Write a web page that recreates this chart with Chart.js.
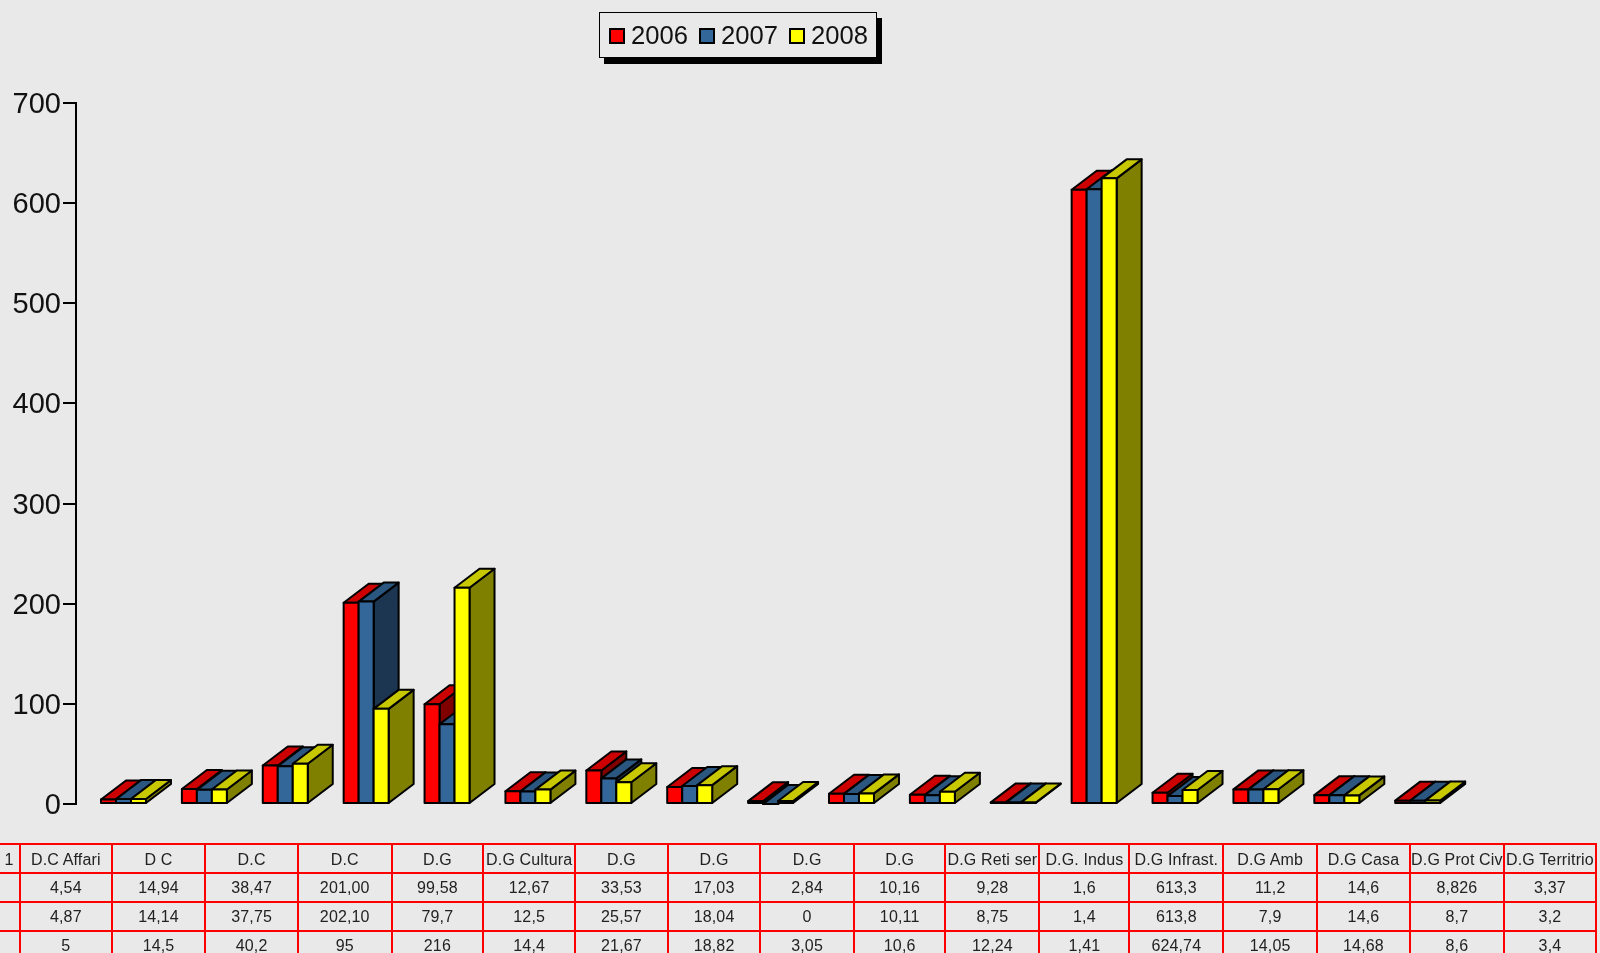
<!DOCTYPE html>
<html>
<head>
<meta charset="utf-8">
<title>Chart</title>
<script src="https://cdn.jsdelivr.net/npm/chart.js@4"></script>
<style>
html,body{margin:0;padding:0;width:1600px;height:953px;overflow:hidden;background:#e9e9e9;font-family:"Liberation Sans",Arial,sans-serif;}
#chart{position:absolute;left:0;top:0;}
#legend{position:absolute;left:599px;top:12px;width:276px;height:44px;border:1.5px solid #000;box-shadow:5px 6px 0 #000;background:#e9e9e9;font-size:25.6px;color:#111;}
#legend span{position:absolute;top:6px;line-height:32px;}
#legend i{position:absolute;top:15px;width:12px;height:12px;border:2px solid #000;}
#data-table{position:absolute;left:-3px;top:843px;border-collapse:collapse;table-layout:fixed;font-size:16px;letter-spacing:.15px;color:#222;}
#data-table td{border:2px solid #f00;height:27px;padding:0;text-align:center;white-space:nowrap;overflow:hidden;}
#data-table tr:first-child td{padding-top:2px;height:25px;}
</style>
</head>
<body>
<canvas id="chart" width="1600" height="953"></canvas>
<div id="legend"></div>
<table id="data-table"></table>
<script>
// Data
const categories=["D.C Affari","D C","D.C","D.C","D.G","D.G Cultura","D.G","D.G","D.G","D.G","D.G Reti ser","D.G. Indus","D.G Infrast.","D.G Amb","D.G Casa","D.G Prot Civ","D.G Territrio"];
const years=["2006","2007","2008"];
const values2006=["4,54","14,94","38,47","201,00","99,58","12,67","33,53","17,03","2,84","10,16","9,28","1,6","613,3","11,2","14,6","8,826","3,37"];
const values2007=["4,87","14,14","37,75","202,10","79,7","12,5","25,57","18,04","0","10,11","8,75","1,4","613,8","7,9","14,6","8,7","3,2"];
const values2008=["5","14,5","40,2","95","216","14,4","21,67","18,82","3,05","10,6","12,24","1,41","624,74","14,05","14,68","8,6","3,4"];
const tickValues=[0,100,200,300,400,500,600,700];

const frontColors=["#ff0000","#336699","#ffff00"];
const topColors=["#cc0000","#2a5680","#c8c800"];
const sideColors=["#800000","#1c3550","#808000"];
const allValues=[values2006,values2007,values2008];
const colWidths=[22,92,94,93,94,92,92,93,93,94,92,94,90,94,94,93,94,92];

const num=s=>parseFloat(s.replace(",","."));

// 3D faces on top of the flat bars, left to right so the later bar covers the earlier side
const DX=25, DY=19;
const bars3d={
  id:"bars3d",
  afterDatasetsDraw(chart){
    const ctx=chart.ctx;
    const metas=chart.data.datasets.map((d,i)=>chart.getDatasetMeta(i));
    ctx.save();
    ctx.strokeStyle="#000";
    ctx.lineWidth=2;
    ctx.lineJoin="round";
    const poly=(pts,fill)=>{
      ctx.beginPath();
      pts.forEach((p,i)=>i?ctx.lineTo(p[0],p[1]):ctx.moveTo(p[0],p[1]));
      ctx.closePath();
      ctx.fillStyle=fill;
      ctx.fill();
      ctx.stroke();
    };
    categories.forEach((c,i)=>{
      metas.forEach((m,k)=>{
        const b=m.data[i], l=b.x-b.width/2, r=b.x+b.width/2;
        poly([[r,b.y],[r+DX,b.y-DY],[r+DX,b.base-DY],[r,b.base]],sideColors[k]);
        poly([[l,b.y],[l+DX,b.y-DY],[r+DX,b.y-DY],[r,b.y]],topColors[k]);
        poly([[l,b.y],[r,b.y],[r,b.base],[l,b.base]],frontColors[k]);
      });
    });
    ctx.restore();
  }
};

new Chart(document.getElementById("chart"),{
  type:"bar",
  data:{
    datasets:years.map((y,k)=>({
      label:y,
      data:allValues[k].map((v,i)=>({x:i,y:num(v)})),
      backgroundColor:frontColors[k],
      borderColor:"#000",
      borderWidth:0
    }))
  },
  options:{
    responsive:false,
    animation:false,
    layout:{padding:{top:103,bottom:149,right:10,left:0}},
    categoryPercentage:0.556,
    barPercentage:1,
    plugins:{legend:{display:false},tooltip:{enabled:false}},
    scales:{
      x:{type:"linear",offset:false,display:false,min:-0.587,max:18.13},
      y:{
        min:0,max:700,
        afterBuildTicks(s){s.ticks=tickValues.map(v=>({value:v}));},
        afterFit(s){s.width=76;},
        border:{color:"#000",width:2},
        grid:{drawOnChartArea:false,color:"#000",lineWidth:2,tickLength:13},
        ticks:{color:"#111",padding:2,labelOffset:2,font:{family:"Liberation Sans",size:29}}
      }
    }
  },
  plugins:[bars3d]
});

// Legend
const legendEl=document.getElementById("legend");
years.forEach((y,k)=>{
  const step=90*k;
  legendEl.innerHTML+=`<i style="left:${9+step}px;background:${frontColors[k]}"></i><span style="left:${31+step}px">${y}</span>`;
});

// Table
const rows=[["1",...categories],...allValues.map(v=>["",...v])];
document.getElementById("data-table").innerHTML=
  "<colgroup>"+colWidths.map(w=>`<col style="width:${w}px">`).join("")+"</colgroup>"+
  rows.map(r=>"<tr>"+r.map(t=>`<td>${t}</td>`).join("")+"</tr>").join("");
</script>
</body>
</html>
